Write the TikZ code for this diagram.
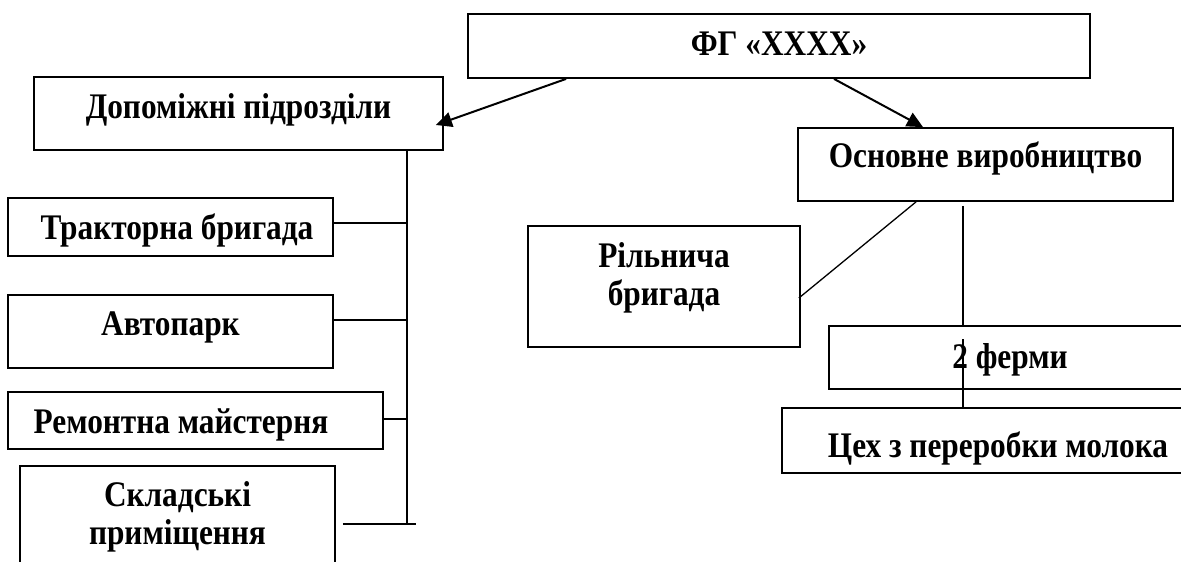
\documentclass[tikz,border=0pt]{standalone}
\usepackage{fontspec}
\setmainfont{Liberation Serif}[FakeStretch=0.87]
\usetikzlibrary{arrows.meta,calc}
\begin{document}
\begin{tikzpicture}[x=1pt,y=-1pt,
  box/.style={draw, line width=1.8pt, inner sep=0pt, align=center,
    font=\bfseries\fontsize{36}{38}\selectfont},
  conn/.style={line width=1.7pt},
  thin/.style={line width=1.3pt},
  arr/.style={line width=2pt, -{Triangle[length=16pt,width=15pt]}}]
\useasboundingbox (0,0) rectangle (1181,562);
\clip (0,0) rectangle (1181,562);
% boxes
\node[box, minimum width=622pt, minimum height=64pt, text height=18pt, text depth=0pt] (top) at (779,46) {ФГ «ХХХХ»};
\node[box, minimum width=409pt, minimum height=73pt, text height=9pt, text depth=0pt] (dop) at (238.5,113.5) {Допоміжні підрозділи};
\node[box, minimum width=325pt, minimum height=58pt, text height=24pt, text depth=0pt] (trak) at (170.5,227) {\hspace*{13pt}Тракторна бригада};
\node[box, minimum width=325pt, minimum height=73pt, text height=7pt, text depth=0pt] (avto) at (170.5,331.5) {Автопарк};
\node[box, minimum width=375pt, minimum height=57pt, text height=25pt, text depth=0pt] (rem) at (195.5,420.5) {Ремонтна майстерня\hspace*{29pt}};
\node[box, minimum width=315pt, minimum height=134pt, text height=22pt, text depth=0pt] (skl) at (177.5,533) {Складські\\приміщення};
\node[box, minimum width=375pt, minimum height=73pt, text height=5pt, text depth=0pt] (osn) at (985.5,164.5) {Основне виробництво};
\node[box, minimum width=272pt, minimum height=121pt, text height=37pt, text depth=0pt] (ril) at (664,286.5) {Рільнича\\бригада};
\node[box, minimum width=362pt, minimum height=63pt, text height=21pt, text depth=0pt] (ferm) at (1010,357.5) {2 ферми};
\node[box, minimum width=432pt, minimum height=65pt, text height=33pt, text depth=0pt] (tsekh) at (998,440.5) {Цех з переробки молока};
% arrows from the top
\draw[arr] ([xshift=99pt]top.south west) -- ([xshift=-8pt,yshift=-11.5pt]dop.east);
\draw[arr] ([xshift=55pt]top.south) -- ([xshift=-62.5pt]osn.north);
% left bus
\coordinate (bustop) at ([xshift=168.5pt]dop.south);
\coordinate (busbot) at (407,524);
\draw[conn] (bustop) -- (busbot);
\draw[conn] ([yshift=4pt]trak.east) -- ([yshift=4pt]trak.east -| bustop);
\draw[conn] ([yshift=11.5pt]avto.east) -- ([yshift=11.5pt]avto.east -| bustop);
\draw[conn] ([yshift=1.5pt]rem.east) -- ([yshift=1.5pt]rem.east -| bustop);
\draw[conn] ([xshift=7pt]skl.east |- busbot) -- ([xshift=9pt]busbot);
% right side
\draw[thin] ([xshift=-69.5pt]osn.south) -- ([xshift=-2pt,yshift=-11.5pt]ril.east);
\draw[thin] ([xshift=-22.5pt,yshift=-4pt]osn.south) -- ([xshift=-47pt]ferm.north);
\draw[thin] ([xshift=-47pt,yshift=-14pt]ferm.north) -- ([xshift=-35pt]tsekh.north);
\end{tikzpicture}
\end{document}
